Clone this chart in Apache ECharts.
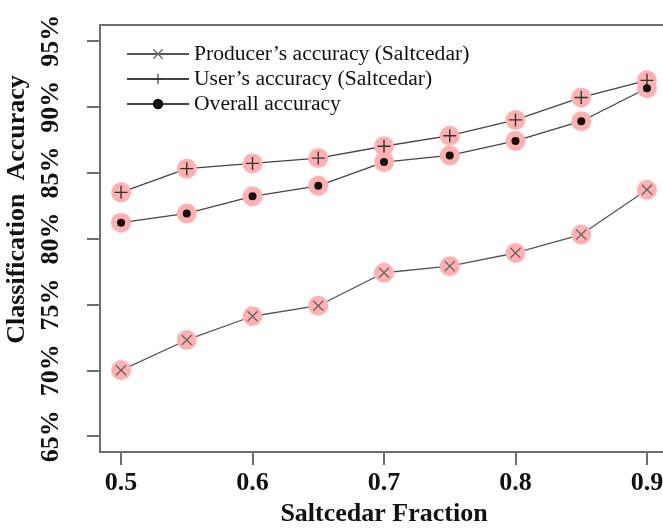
<!DOCTYPE html>
<html>
<head>
<meta charset="utf-8">
<script src="https://cdn.jsdelivr.net/npm/echarts@6/dist/echarts.min.js"></script>
<style>
  html, body { margin: 0; padding: 0; background: #fff; }
  #chart { width: 663px; height: 532px; }
</style>
</head>
<body>
<div id="chart"></div>
<script>
// saltcedar fraction on x, accuracy (%) on y
const fractions = [0.5, 0.55, 0.6, 0.65, 0.7, 0.75, 0.8, 0.85, 0.9]
const producerAcc = [70.0, 72.3, 74.1, 74.9, 77.4, 77.9, 78.9, 80.3, 83.7]
const userAcc = [83.5, 85.3, 85.7, 86.1, 87.0, 87.8, 89.0, 90.7, 92.0]
const overallAcc = [81.2, 81.9, 83.2, 84.0, 85.8, 86.3, 87.4, 88.9, 91.4]

const seriesNames = ['Producer\u2019s accuracy (Saltcedar)', 'User\u2019s accuracy (Saltcedar)', 'Overall accuracy']
const xTicks = [0.5, 0.6, 0.7, 0.8, 0.9]
const yTicks = [65, 70, 75, 80, 85, 90, 95]

const crossSymbol = 'path://M0.85,0L10,9.15L9.15,10L0,0.85Z M9.15,0L10,0.85L0.85,10L0,9.15Z'
const plusSymbol = 'path://M0,5.35H12V6.65H0Z M5.35,0H6.65V12H5.35Z'

const serif = 'Liberation Serif, Times New Roman, serif'
const axisGray = '#6e6e6e'

const pairs = vals => fractions.map((f, i) => [f, vals[i]])

const styles = [
  { data: producerAcc, symbol: crossSymbol, size: 11, color: '#666', line: '#555' },
  { data: userAcc, symbol: plusSymbol, size: 13, color: '#333', line: '#444' },
  { data: overallAcc, symbol: 'circle', size: 8, color: '#111', line: '#444' }
]

const chart = echarts.init(document.getElementById('chart'))

const lineSeries = styles.map((s, i) => ({
  name: seriesNames[i],
  type: 'line',
  data: pairs(s.data),
  symbol: s.symbol,
  symbolSize: s.size,
  z: 2,
  lineStyle: { color: s.line, width: 1.3 },
  itemStyle: { color: s.color }
}))

// discs over the lines leave the small gaps round each marker (R type="b")
const haloSeries = {
  name: 'halo',
  type: 'scatter',
  z: 5,
  symbol: 'circle',
  symbolSize: 20,
  itemStyle: { color: '#ffb0b0', opacity: 1 },
  data: [].concat(pairs(producerAcc), pairs(userAcc), pairs(overallAcc))
}

const markerSeries = styles.map((s, i) => ({
  name: 'marker' + i,
  type: 'scatter',
  z: 6,
  symbol: s.symbol,
  symbolSize: s.size,
  itemStyle: { color: s.color, opacity: 1 },
  data: pairs(s.data)
}))

const option = {
  animation: false,
  grid: {
    left: 100,
    top: 25,
    width: 568,
    height: 427,
    outerBoundsMode: 'none',
    show: true,
    borderColor: axisGray,
    borderWidth: 2
  },
  legend: {
    data: seriesNames,
    orient: 'vertical',
    left: 121,
    top: 37,
    itemWidth: 62,
    itemHeight: 13,
    itemGap: 1,
    textStyle: {
      fontFamily: serif,
      fontSize: 21.6,
      lineHeight: 24,
      color: '#111'
    }
  },
  xAxis: {
    type: 'value',
    min: 0.484,
    max: 0.916,
    name: 'Saltcedar Fraction',
    nameLocation: 'middle',
    nameGap: 44,
    nameTextStyle: {
      fontFamily: serif,
      fontWeight: 'bold',
      fontSize: 26,
      color: '#111'
    },
    axisLine: { show: false },
    splitLine: { show: false },
    axisTick: {
      show: true,
      length: 13,
      customValues: xTicks,
      lineStyle: { color: axisGray, width: 2 }
    },
    axisLabel: {
      customValues: xTicks,
      margin: 18,
      fontFamily: serif,
      fontWeight: 'bold',
      fontSize: 26,
      color: '#111',
      formatter: v => v.toFixed(1)
    }
  },
  yAxis: {
    type: 'value',
    min: 63.8,
    max: 96.2,
    name: 'Classification  Accuracy',
    nameLocation: 'middle',
    nameGap: 55,
    nameTextStyle: {
      fontFamily: serif,
      fontWeight: 'bold',
      fontSize: 26,
      color: '#111',
      padding: [0, 0, 0, 58]
    },
    axisLine: { show: false },
    splitLine: { show: false },
    axisTick: {
      show: true,
      length: 13,
      customValues: yTicks,
      lineStyle: { color: axisGray, width: 2 }
    },
    axisLabel: {
      customValues: yTicks,
      rotate: 90,
      margin: 36,
      fontFamily: serif,
      fontWeight: 'bold',
      fontSize: 26,
      color: '#111',
      formatter: v => v + '%'
    }
  },
  series: [].concat(lineSeries, [haloSeries], markerSeries)
}

chart.setOption(option)
</script>
</body>
</html>
